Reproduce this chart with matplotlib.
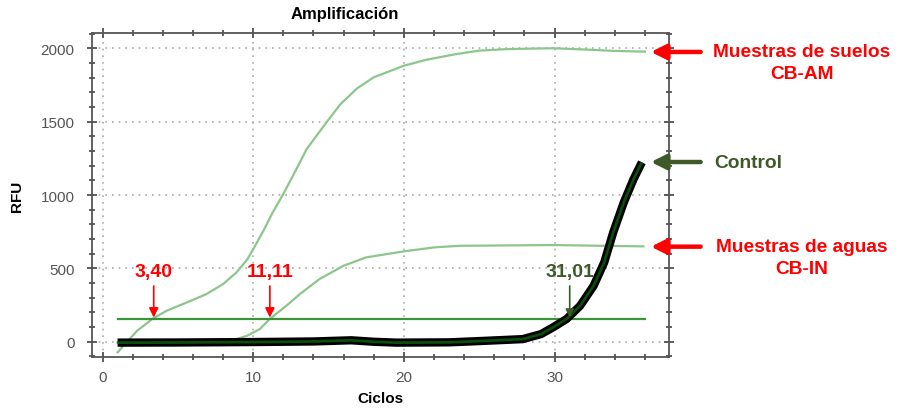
import numpy as np
import matplotlib
matplotlib.use("Agg")
import matplotlib.pyplot as plt
from matplotlib.ticker import MultipleLocator

plt.rcParams['font.family'] = ['Liberation Sans', 'DejaVu Sans']

# curves (cycle, RFU)
soil_x = [1.0, 1.6, 2.3, 3.3, 4.25, 5.6, 6.9, 8.0, 8.9, 9.6, 10.0, 10.7, 11.3, 12.0, 12.7,
          13.55, 14.9, 15.8, 16.9, 18.0, 20.0, 21.5, 23.5, 25.0, 26.8, 28.5, 30.0, 32.4, 34.0, 36.0]
soil_y = [-72, -4, 75, 155, 211, 268, 325, 393, 473, 560, 630, 760, 882, 1007, 1143,
          1313, 1500, 1620, 1727, 1802, 1881, 1922, 1961, 1984, 1994, 1998, 2000, 1990, 1982, 1977]

water_x = [1, 4, 7, 8.2, 9.6, 10.45, 11.1, 12.2, 13.1, 14.4, 16.0, 17.5, 20.0, 22.0, 23.7,
           25.1, 27.5, 29.9, 32.5, 35.9]
water_y = [-5, -5, -4, -4, 41, 87, 155, 245, 325, 427, 518, 575, 616, 643, 654,
           655, 657, 659, 655, 650]

ctrl_x = [1, 5, 10, 14, 16.5, 18, 19.5, 23, 25.1, 27.9, 29.1, 29.9, 30.8, 31.7, 32.6,
          33.3, 33.9, 34.6, 35.25, 35.8]
ctrl_y = [-6, -5, -2, 2, 10, 0, -6, -4, 5, 18, 52, 98, 155, 245, 382,
          541, 746, 950, 1109, 1223]

threshold = 155
ct_values = [3.40, 11.11, 31.01]
ct_labels = ["3,40", "11,11", "31,01"]
ct_colors = ["red", "red", "#3d5a28"]

fig = plt.figure(figsize=(8.98, 4.10), dpi=100)
ax = fig.add_axes([0.1024, 0.1268, 0.6426, 0.7902])

ax.plot(soil_x, soil_y, color="#8cc68c", lw=1.6)
ax.plot(water_x, water_y, color="#8cc68c", lw=1.6)
ax.plot([1, 36], [threshold, threshold], color="#3a953a", lw=1.6)
ax.plot(ctrl_x, ctrl_y, color="black", lw=6, solid_capstyle="butt", solid_joinstyle="round")
ax.plot(ctrl_x, ctrl_y, color="#0b4d0b", lw=2, solid_capstyle="butt", solid_joinstyle="round")

ax.set_xlim(-0.7, 37.6)
ax.set_ylim(-104, 2104)
ax.xaxis.set_major_locator(MultipleLocator(10))
ax.xaxis.set_minor_locator(MultipleLocator(2))
ax.yaxis.set_major_locator(MultipleLocator(500))
ax.yaxis.set_minor_locator(MultipleLocator(100))
ax.tick_params(which="both", direction="inout", top=True, right=True, color="#444444")
ax.tick_params(which="major", length=7, width=1.2, labelsize=11, labelcolor="#555555")
ax.tick_params(which="minor", length=4, width=1.2)
ax.tick_params(axis="x", pad=6)
ax.tick_params(axis="y", pad=9)
ax.grid(True, which="major", linestyle=(0, (1, 3)), color="#aaaaaa", lw=1.2)
for sp in ax.spines.values():
    sp.set_color("#555555")
    sp.set_linewidth(1.3)

fig.text(345 / 898, 1 - 15 / 410, "Amplificación", fontsize=12, fontweight="bold",
         ha="center", va="center")
ax.set_xlabel("Ciclos", fontsize=11, fontweight="bold", labelpad=5)
ax.set_ylabel("RFU", fontsize=11, fontweight="bold", labelpad=12)

for ct, lab, col in zip(ct_values, ct_labels, ct_colors):
    big = col == "red"
    ax.annotate("", xy=(ct, threshold + 10), xytext=(ct, 380),
                arrowprops=dict(arrowstyle="-|>", color=col, lw=1.2,
                                mutation_scale=14 if big else 12,
                                shrinkA=0, shrinkB=0))
    ax.text(ct, 420, lab, color=col, fontsize=14, fontweight="bold",
            ha="center", va="bottom")

# right-side labels with arrows
side = [(1975, "Muestras de suelos\nCB-AM", "red"),
        (1225, "Control", "#3d5a28"),
        (648, "Muestras de aguas\nCB-IN", "red")]
for yv, lab, col in side:
    ax.annotate("", xy=(36.4, yv), xytext=(39.7, yv), annotation_clip=False,
                arrowprops=dict(arrowstyle="-|>,head_width=0.45,head_length=0.9",
                                color=col, lw=3.2, shrinkA=0, shrinkB=0))
    if "\n" in lab:
        first, second = lab.split("\n")
        ax.text(46.4, yv, first, color=col, fontsize=13.8, fontweight="bold",
                ha="center", va="center", clip_on=False)
        ax.text(46.4, yv - 150, second, color=col, fontsize=13.8, fontweight="bold",
                ha="center", va="center", clip_on=False)
    else:
        ax.text(40.6, yv, lab, color=col, fontsize=13.8, fontweight="bold",
                ha="left", va="center", clip_on=False)

fig.savefig("out.png", dpi=100)
